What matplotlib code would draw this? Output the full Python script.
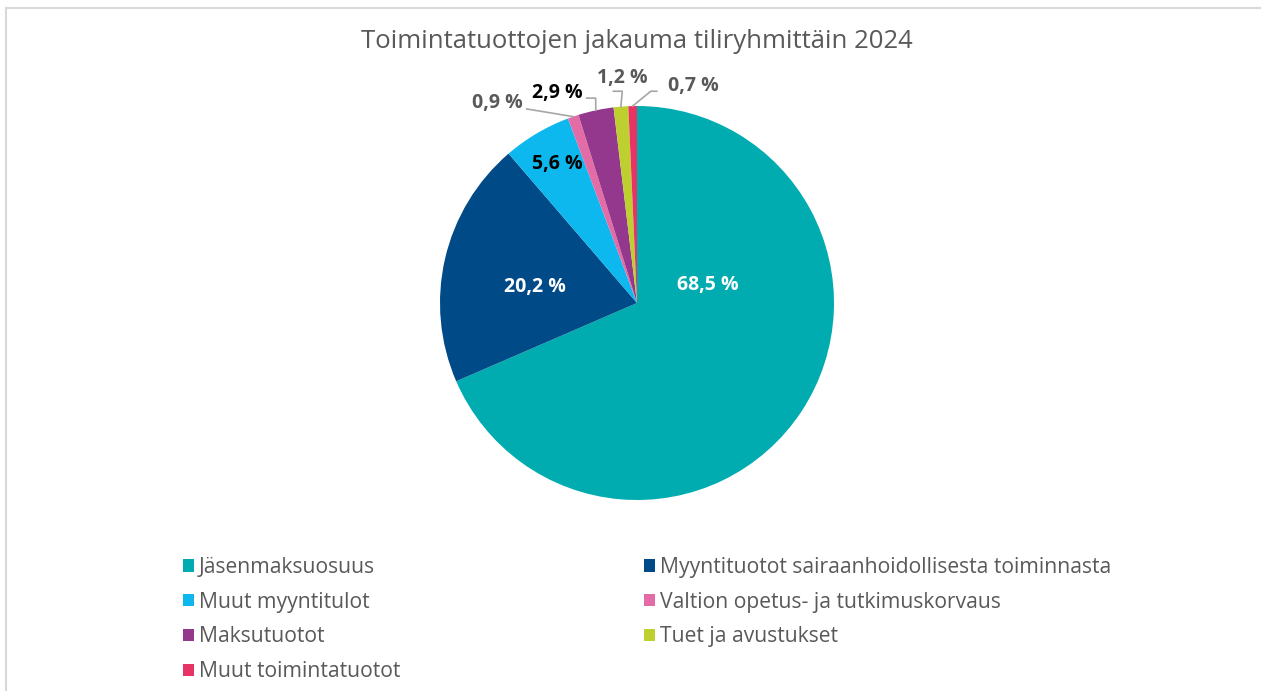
import numpy as np
import matplotlib.pyplot as plt
from matplotlib.patches import Patch
from matplotlib.lines import Line2D

plt.rcParams['font.family'] = ['Open Sans', 'DejaVu Sans']

# data
categories = ['Jäsenmaksuosuus', 'Myyntituotot sairaanhoidollisesta toiminnasta',
              'Muut myyntitulot', 'Valtion opetus- ja tutkimuskorvaus',
              'Maksutuotot', 'Tuet ja avustukset', 'Muut toimintatuotot']
shares = [68.5, 20.2, 5.6, 0.9, 2.9, 1.2, 0.7]
colors = ['#00acb0', '#004a87', '#0db8ee', '#e46ca6', '#93388c', '#becf30', '#e83464']
title = 'Toimintatuottojen jakauma tiliryhmittäin 2024'

W, H = 1261, 691
fig = plt.figure(figsize=(W / 100, H / 100), dpi=100)

# light frame around chart area
fig.add_artist(Line2D([6 / W, 6 / W], [0, 1 - 8 / H], color='#d9d9d9', lw=1.5))
fig.add_artist(Line2D([6 / W, 1], [1 - 8 / H, 1 - 8 / H], color='#d9d9d9', lw=1.5))

fig.text(637 / W, 1 - 42 / H, title, ha='center', va='center',
         fontsize=18.5, color='#595959')

# pie axes: centre (637, 303), radius 197 px
cx, cy, r = 637, 303, 197
ax = fig.add_axes([(cx - r) / W, (H - cy - r) / H, 2 * r / W, 2 * r / H])
wedges, _ = ax.pie(shares, colors=colors, startangle=90, counterclock=False,
                   wedgeprops=dict(linewidth=0))
ax.set_xlim(-1, 1)
ax.set_ylim(-1, 1)
ax.set_aspect('auto')
ax.axis('off')

# label placement (layout, in pie radius units)
label_pos = [(0.36, 0.09), (-0.52, 0.08), (-0.405, 0.705), (-0.71, 1.015),
             (-0.405, 1.065), (-0.075, 1.14), (0.285, 1.10)]
label_col = ['white', 'white', 'black', '#595959', 'black', '#595959', '#595959']
# leader elbows (only for small outside labels)
elbows = {3: [(-0.56, 0.985)],
          4: [(-0.255, 1.04), (-0.21, 1.04)],
          5: [(-0.12, 1.075), (-0.075, 1.075)],
          6: [(0.10, 1.075), (0.07, 1.075)]}

for i, (w, v) in enumerate(zip(wedges, shares)):
    txt = f'{v:.1f} %'.replace('.', ',')
    x, y = label_pos[i]
    ax.text(x, y, txt, ha='center', va='center', fontsize=14,
            fontweight='bold', color=label_col[i], clip_on=False)
    if i in elbows:
        ang = np.deg2rad((w.theta1 + w.theta2) / 2)
        pts = elbows[i] + [(np.cos(ang), np.sin(ang))]
        xs, ys = zip(*pts)
        ax.plot(xs, ys, color='#a6a6a6', lw=1.2, clip_on=False)

# legend, row-wise order in 2 columns
handles = [Patch(facecolor=c, edgecolor='none') for c in colors]
order = [0, 2, 4, 6, 1, 3, 5]
fig.legend([handles[k] for k in order], [categories[k] for k in order],
           ncol=2, loc='upper left', bbox_to_anchor=(183 / W, 1 - 557 / H),
           frameon=False, fontsize=15.2, labelcolor='#595959',
           handlelength=0.5, handleheight=0.5, handletextpad=0.25,
           labelspacing=0.65, columnspacing=11.55, borderpad=0, borderaxespad=0)

fig.savefig('out.png', dpi=100, facecolor='white')
